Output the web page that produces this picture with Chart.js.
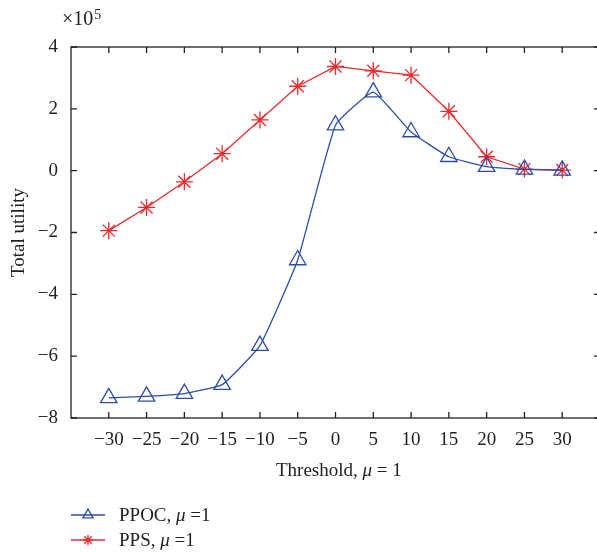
<!DOCTYPE html>
<html>
<head>
<meta charset="utf-8">
<script src="https://cdn.jsdelivr.net/npm/chart.js@4/dist/chart.umd.min.js"></script>
<style>
  html, body { margin: 0; padding: 0; background: #fff; overflow: hidden; }
  canvas { display: block; }
</style>
</head>
<body>
<canvas id="utilityChart" width="600" height="552"></canvas>
<script>
// values (units of 1e5)
const thresholds = [-30, -25, -20, -15, -10, -5, 0, 5, 10, 15, 20, 25, 30];
const ppocValues = [-7.35, -7.30, -7.21, -6.92, -5.66, -2.89, 1.47, 2.54, 1.25, 0.45, 0.13, 0.04, 0.01];
const ppsValues = [-1.94, -1.19, -0.36, 0.55, 1.64, 2.73, 3.37, 3.23, 3.09, 1.92, 0.45, 0.05, 0.02];
const yTicks = [-8, -6, -4, -2, 0, 2, 4];

const FONT = '"Liberation Serif", "Times New Roman", serif';
const FS = 19;
const BLUE = '#2d4ea6';
const RED = '#ea2a2f';

const minus = v => (v < 0 ? '\u2212' + Math.abs(v) : String(v));

// frame, inward ticks, exponent, x title and legend
const decorations = {
  id: 'decorations',
  afterDraw(chart) {
    const ctx = chart.ctx;
    const a = chart.chartArea;
    const xs = chart.scales.x, ys = chart.scales.y;
    ctx.save();
    ctx.strokeStyle = '#222';
    ctx.lineWidth = 1.3;
    ctx.strokeRect(a.left, a.top, a.right - a.left, a.bottom - a.top);
    ctx.beginPath();
    thresholds.forEach(t => {
      const px = xs.getPixelForValue(t);
      ctx.moveTo(px, a.bottom); ctx.lineTo(px, a.bottom - 6);
      ctx.moveTo(px, a.top); ctx.lineTo(px, a.top + 6);
    });
    yTicks.forEach(v => {
      const py = ys.getPixelForValue(v);
      ctx.moveTo(a.left, py); ctx.lineTo(a.left + 6, py);
      ctx.moveTo(a.right, py); ctx.lineTo(a.right - 6, py);
    });
    ctx.stroke();

    ctx.fillStyle = '#222';
    ctx.textBaseline = 'alphabetic';
    ctx.textAlign = 'left';
    ctx.font = '20px ' + FONT;
    ctx.fillText('\u00d710', 62, 25);
    const expX = 62 + ctx.measureText('\u00d710').width + 1;
    ctx.font = '14px ' + FONT;
    ctx.fillText('5', expX, 19);

    // mixed-style line: pieces of [text, italic]
    const drawRich = (parts, x, y) => {
      parts.forEach(([txt, it]) => {
        ctx.font = (it ? 'italic ' : '') + FS + 'px ' + FONT;
        ctx.fillText(txt, x, y);
        x += ctx.measureText(txt).width;
      });
    };
    drawRich([['Threshold, ', false], ['\u03bc', true], [' = 1', false]], 276, 476);

    const items = [
      { ds: chart.data.datasets[0], y: 515, label: [['PPOC, ', false], ['\u03bc', true], [' =1', false]] },
      { ds: chart.data.datasets[1], y: 540, label: [['PPS, ', false], ['\u03bc', true], [' =1', false]] }
    ];
    items.forEach(it => {
      ctx.strokeStyle = it.ds.borderColor;
      ctx.fillStyle = 'rgba(0,0,0,0)';
      ctx.lineWidth = 1.3;
      ctx.beginPath();
      ctx.moveTo(71, it.y); ctx.lineTo(105, it.y);
      ctx.stroke();
      Chart.helpers.drawPoint(ctx, {
        pointStyle: it.ds.pointStyle, radius: it.ds.pointRadius * 0.62,
        borderWidth: 1.3
      }, 88, it.y);
      ctx.fillStyle = '#222';
      ctx.textBaseline = 'middle';
      drawRich(it.label, 119, it.y + 1);
    });
    ctx.restore();
  }
};

new Chart(document.getElementById('utilityChart'), {
  type: 'line',
  data: {
    datasets: [{
      label: 'PPOC',
      data: thresholds.map((t, i) => ({ x: t, y: ppocValues[i] })),
      borderColor: BLUE,
      backgroundColor: 'rgba(0,0,0,0)',
      borderWidth: 1.3,
      pointStyle: 'triangle',
      pointRadius: 9.5,
      pointBorderWidth: 1.3,
      pointBackgroundColor: 'rgba(0,0,0,0)',
      pointBorderColor: BLUE,
      tension: 0.12
    }, {
      label: 'PPS',
      data: thresholds.map((t, i) => ({ x: t, y: ppsValues[i] })),
      borderColor: RED,
      backgroundColor: 'rgba(0,0,0,0)',
      borderWidth: 1.3,
      pointStyle: 'star',
      pointRadius: 8.5,
      pointBorderWidth: 1.3,
      pointBorderColor: RED
    }]
  },
  options: {
    responsive: false,
    animation: false,
    layout: { autoPadding: false, padding: { top: 47, left: 0, right: 0, bottom: 0 } },
    plugins: { legend: { display: false }, tooltip: { enabled: false } },
    scales: {
      x: {
        type: 'linear',
        min: -35, max: 35,
        grid: { display: false, drawTicks: false },
        border: { display: false },
        afterBuildTicks: s => { s.ticks = thresholds.map(v => ({ value: v })); },
        afterFit: s => { s.height = 134; s.paddingLeft = 0; s.paddingRight = 0; },
        ticks: {
          padding: 11,
          maxRotation: 0,
          autoSkip: false,
          color: '#222',
          font: { family: FONT, size: FS },
          callback: v => minus(v)
        }
      },
      y: {
        min: -8, max: 4,
        grid: { display: false, drawTicks: false },
        border: { display: false },
        afterBuildTicks: s => { s.ticks = yTicks.map(v => ({ value: v })); },
        afterFit: s => { s.width = 71; },
        title: {
          display: true,
          text: 'Total utility',
          color: '#222',
          font: { family: FONT, size: FS },
          padding: { top: 8, bottom: 0 }
        },
        ticks: {
          padding: 13,
          color: '#222',
          font: { family: FONT, size: FS },
          callback: v => minus(v)
        }
      }
    }
  },
  plugins: [decorations]
});
</script>
</body>
</html>
